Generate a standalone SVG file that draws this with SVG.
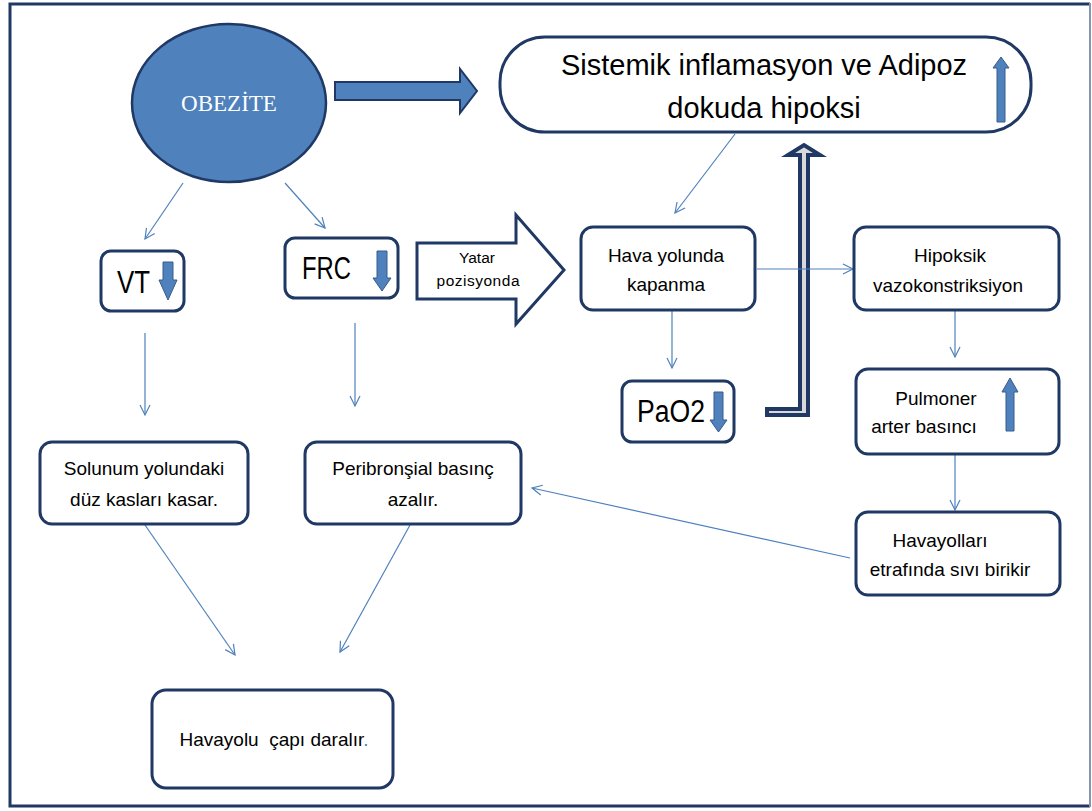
<svg xmlns="http://www.w3.org/2000/svg" width="1092" height="811" viewBox="0 0 1092 811">
<style>
.b{fill:#fff;stroke:#1F3864;stroke-width:3}
.t{font-family:"Liberation Sans",Arial,sans-serif;font-size:19px;fill:#000;text-anchor:middle}
.big{font-family:"Liberation Sans",Arial,sans-serif;font-size:31px;fill:#000}
.c{fill:none;stroke:#4F81BD;stroke-width:1.2;marker-end:url(#ah)}
.ba{fill:#4F81BD;stroke:#385D8A;stroke-width:1}
</style>
<defs>
<marker id="ah" markerUnits="userSpaceOnUse" markerWidth="14" markerHeight="14" refX="11" refY="6" orient="auto">
<path d="M1,1 L11,6 L1,11" fill="none" stroke="#4F81BD" stroke-width="1.2"/>
</marker>
</defs>
<rect x="0" y="0" width="1092" height="811" fill="#fff"/>
<path d="M1090,4 H10 V806 H1090" fill="none" stroke="#1F3864" stroke-width="3"/>
<line x1="1090" y1="3" x2="1090" y2="807" stroke="#8496B0" stroke-width="2"/>

<g id="connectors">
<polygon points="335,82 460,82 460,69 477,91 460,113 460,100 335,100" fill="#4F81BD" stroke="#1F3864" stroke-width="2"/>
<polygon points="417,243 516,243 516,215 564,270 516,324 516,299 417,299" fill="#fff" stroke="#1F3864" stroke-width="3"/>
<polygon points="767,409 800,409 800,155 788,155 804,145 820,155 808,155 808,415 767,415" fill="#D9D9D9" stroke="#1F3864" stroke-width="4"/>
<line class="c" x1="183" y1="183" x2="145" y2="239"/>
<line class="c" x1="285" y1="183" x2="325" y2="228"/>
<line class="c" x1="735" y1="134" x2="675" y2="213"/>
<line class="c" x1="757" y1="269" x2="853" y2="269"/>
<line class="c" x1="672" y1="311" x2="672" y2="368"/>
<line class="c" x1="955" y1="311" x2="955" y2="357"/>
<line class="c" x1="955" y1="455" x2="955" y2="510"/>
<line class="c" x1="850" y1="558" x2="532" y2="488"/>
<line class="c" x1="145" y1="333" x2="145" y2="415"/>
<line class="c" x1="355" y1="323" x2="355" y2="406"/>
<line class="c" x1="145" y1="525" x2="235" y2="655"/>
<line class="c" x1="410" y1="525" x2="340" y2="652"/>
<text x="477" y="263" class="t" style="font-size:15.5px" textLength="36">Yatar</text>
<text x="478" y="286" class="t" style="font-size:15.5px" textLength="83">pozisyonda</text>
</g>

<g id="obezite">
<ellipse cx="229" cy="103" rx="97" ry="79" fill="#4F81BD" stroke="#1F3864" stroke-width="2.5"/>
<text x="229" y="111" style="font-family:'Liberation Serif','Times New Roman',serif;font-size:23px;fill:#fff;text-anchor:middle">OBEZİTE</text>
</g>

<g id="sistemik">
<rect class="b" x="500" y="37" width="531" height="95" rx="45"/>
<text class="t" x="764" y="75" style="font-size:29px">Sistemik inflamasyon ve Adipoz</text>
<text class="t" x="764" y="118" style="font-size:29px">dokuda hipoksi</text>
<polygon class="ba" points="997,122 997,68 993,68 1001,57 1009,68 1005,68 1005,122"/>
</g>

<g id="vt">
<rect class="b" x="101" y="251" width="83" height="60" rx="10"/>
<text class="big" x="117" y="293" textLength="33" lengthAdjust="spacingAndGlyphs">VT</text>
<polygon class="ba" points="163,262 173,262 173,280 177,280 168,300 159,280 163,280"/>
</g>

<g id="frc">
<rect class="b" x="285" y="238" width="113" height="60" rx="10"/>
<text class="big" x="302" y="279" textLength="49" lengthAdjust="spacingAndGlyphs">FRC</text>
<polygon class="ba" points="377,251 387,251 387,278 391,278 382,291 373,278 377,278"/>
</g>

<g id="hava">
<rect class="b" x="581" y="227" width="174" height="83" rx="12"/>
<text class="t" x="666" y="262">Hava yolunda</text>
<text class="t" x="666" y="291">kapanma</text>
</g>

<g id="hipoksik">
<rect class="b" x="854" y="227" width="205" height="83" rx="12"/>
<text class="t" x="950" y="262">Hipoksik</text>
<text class="t" x="948" y="292">vazokonstriksiyon</text>
</g>

<g id="pao2">
<rect class="b" x="622" y="381" width="112" height="61" rx="10"/>
<text class="big" x="637" y="422" textLength="68" lengthAdjust="spacingAndGlyphs">PaO2</text>
<polygon class="ba" points="714,392 723,392 723,420 727,420 718.5,432 710,420 714,420"/>
</g>

<g id="pulmoner">
<rect class="b" x="856" y="369" width="203" height="85" rx="12"/>
<text class="t" x="936" y="405">Pulmoner</text>
<text class="t" x="924" y="433">arter basıncı</text>
<polygon class="ba" points="1006,431 1006,392 1002,392 1010,378 1018,392 1014,392 1014,431"/>
</g>

<g id="havayollari">
<rect class="b" x="856" y="512" width="204" height="83" rx="12"/>
<text class="t" x="940" y="547">Havayolları</text>
<text class="t" x="950" y="576">etrafında sıvı birikir</text>
</g>

<g id="solunum">
<rect class="b" x="40" y="442" width="208" height="82" rx="12"/>
<text class="t" x="144" y="475">Solunum yolundaki</text>
<text class="t" x="144" y="506">düz kasları kasar.</text>
</g>

<g id="peribronsial">
<rect class="b" x="305" y="442" width="216" height="82" rx="12"/>
<text class="t" x="413" y="475">Peribronşial basınç</text>
<text class="t" x="413" y="506">azalır.</text>
</g>

<g id="havayolu">
<rect class="b" x="152" y="690" width="241" height="98" rx="14"/>
<text class="t" x="274" y="746" xml:space="preserve">Havayolu  çapı daralır<tspan fill="#4F81BD">.</tspan></text>
</g>
</svg>
